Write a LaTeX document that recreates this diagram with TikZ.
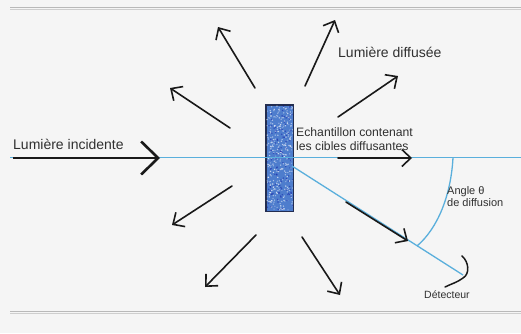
\documentclass[tikz,border=0pt]{standalone}
\usepackage{fontspec}
\setmainfont{Liberation Sans}
\usetikzlibrary{arrows.meta}
\definecolor{bg}{RGB}{245,245,245}
\definecolor{rule}{RGB}{185,185,185}
\definecolor{beam}{RGB}{90,175,220}
\definecolor{samp}{RGB}{78,125,205}
\definecolor{sampdark}{RGB}{35,45,80}
\definecolor{ink}{RGB}{25,25,25}
\begin{document}
\begin{tikzpicture}[x=1pt,y=-1pt,
  arr/.style={ink, line width=1.6pt, line cap=round,
    -{Straight Barb[length=9pt,width=17pt,line width=1.6pt]}},
  bigarr/.style={ink, line width=2.6pt,
    -{Straight Barb[length=17pt,width=33pt,line width=2.6pt]}},
  beamline/.style={beam, line width=1.3pt},
  lbl/.style={text=ink!90, inner sep=0pt},
  samplebox/.style={draw=sampdark, line width=1pt, fill=samp,
    minimum width=27pt, minimum height=106pt, inner sep=0pt}]
\fill[bg] (0,0) rectangle (521,333);
\useasboundingbox (0,0) rectangle (521,333);
% rules
\draw[rule, line width=0.6pt] (10,7.5) -- (521,7.5);
\draw[rule!70, line width=0.6pt] (10,9.5) -- (521,9.5);
\draw[rule, line width=0.6pt] (10,311.5) -- (521,311.5);
\draw[rule!70, line width=0.6pt] (10,313.5) -- (521,313.5);
% sample
\node[samplebox] (sample) at (279.5,158) {};
\pgfmathsetseed{7}
\begin{scope}
\clip (sample.south west) rectangle (sample.north east);
\foreach \k in {1,...,320} {
  \pgfmathsetmacro{\px}{267+26*rnd}
  \pgfmathsetmacro{\py}{106+104*rnd}
  \pgfmathsetmacro{\op}{0.25+0.5*rnd}
  \fill[white, opacity=\op] (\px,\py) circle (0.75pt);
}
\foreach \k in {1,...,110} {
  \pgfmathsetmacro{\px}{267+26*rnd}
  \pgfmathsetmacro{\py}{106+104*rnd}
  \fill[blue!60!black, opacity=0.4] (\px,\py) circle (0.8pt);
}
\end{scope}
\draw[sampdark, line width=1pt] (sample.south west) rectangle (sample.north east);
% coordinates
\coordinate (bl) at (10,157.5);
\coordinate (br) at (521,157.5);
\coordinate (det) at (463,275);
% beam
\draw[beamline, line width=1.8pt] (bl) -- (br);
\coordinate (exit) at (292,166);
\draw[beamline] (exit) -- (det);
% angle arc
\coordinate (a1) at (453,157.5);
\coordinate (a2) at (417,246);
\draw[beamline] (a1) .. controls (451,195) and (438,228) .. (a2);
% incident arrow
\coordinate (i0) at (13,158);
\coordinate (i1) at (160,158);
\draw[bigarr] (i0) -- (i1);
% radial arrows
\coordinate (t1) at (255,88);  \coordinate (h1) at (218,27);
\coordinate (t2) at (305,86);  \coordinate (h2) at (335,20);
\coordinate (t3) at (230,128); \coordinate (h3) at (170,88);
\coordinate (t4) at (338,117); \coordinate (h4) at (398,76);
\coordinate (t5) at (232,186); \coordinate (h5) at (172,225);
\coordinate (t6) at (256,235); \coordinate (h6) at (205,287);
\coordinate (t7) at (302,237); \coordinate (h7) at (340,295);
\coordinate (t8) at (338,158); \coordinate (h8) at (412,158);
\coordinate (t9) at (346,202); \coordinate (h9) at (408,241);
\foreach \i in {1,...,9} {\draw[arr] (t\i) -- (h\i);}
% detector
\coordinate (d0) at (462,256);
\coordinate (d1) at (463,278);
\coordinate (d2) at (445,287);
\draw[ink, line width=1.5pt, line cap=round] (d0) .. controls (469,262) and (470,274) .. (d1)
  .. controls (458,282) and (451,284) .. (d2);
% labels
\node[lbl, anchor=base west, font=\fontsize{14}{16}\selectfont] (inc) at (13,149.5) {Lumière incidente};
\node[lbl, anchor=base west, font=\fontsize{14}{16}\selectfont] (dif) at (338,57) {Lumière diffusée};
\node[lbl, anchor=base west, font=\fontsize{12.2}{14}\selectfont] (ech1) at (296,136.5) {Echantillon contenant};
\node[lbl, anchor=base west, font=\fontsize{12.2}{14}\selectfont] (ech2) at (296,150) {les cibles diffusantes};
\node[lbl, anchor=base west, font=\fontsize{11}{13}\selectfont] (ang1) at (447,194) {Angle θ};
\node[lbl, anchor=base west, font=\fontsize{11}{13}\selectfont] (ang2) at (447,206.5) {de diffusion};
\node[lbl, anchor=base west, font=\fontsize{10.5}{12}\selectfont] (detl) at (424,298) {Détecteur};
\end{tikzpicture}
\end{document}
